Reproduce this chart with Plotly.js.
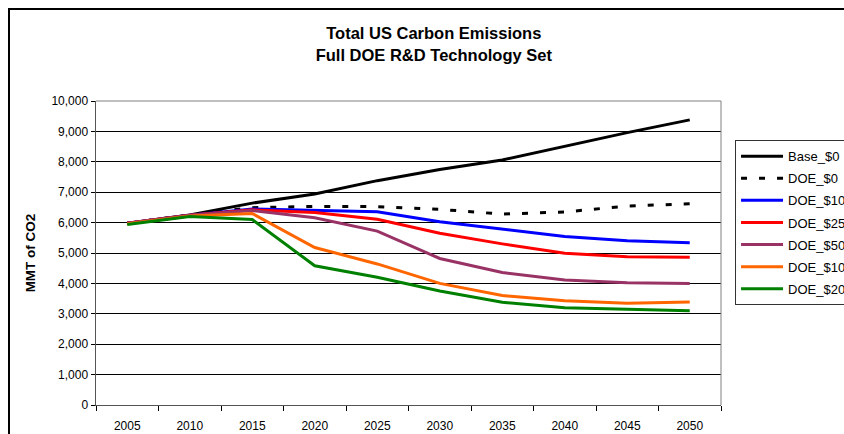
<!DOCTYPE html>
<html>
<head>
<meta charset="utf-8">
<script src="https://cdn.plot.ly/plotly-3.0.1.min.js"></script>
<style>html,body{margin:0;padding:0;background:#fff;overflow:hidden}#chart{width:844px;height:434px}</style>
</head>
<body>
<div id="chart"></div>
<script>
const years = ["2005","2010","2015","2020","2025","2030","2035","2040","2045","2050"];
const base_0   = [5980, 6250, 6640, 6940, 7380, 7750, 8060, 8520, 8960, 9380];
const doe_0    = [5980, 6250, 6490, 6535, 6525, 6435, 6280, 6350, 6545, 6620];
const doe_10   = [5980, 6240, 6450, 6415, 6360, 6030, 5780, 5540, 5405, 5340];
const doe_25   = [5980, 6240, 6420, 6330, 6110, 5650, 5300, 4990, 4880, 4860];
const doe_50   = [5980, 6240, 6400, 6160, 5720, 4820, 4360, 4110, 4020, 4000];
const doe_100  = [5960, 6220, 6300, 5180, 4640, 4000, 3600, 3430, 3345, 3390];
const doe_200  = [5940, 6200, 6100, 4580, 4200, 3750, 3380, 3200, 3150, 3100];
const seriesNames = ["Base_$0","DOE_$0","DOE_$100","DOE_$250","DOE_$500","DOE_$1000","DOE_$2000"];
const seriesData = [base_0, doe_0, doe_10, doe_25, doe_50, doe_100, doe_200];
const colors = ["#000000","#000000","#0000FF","#FF0000","#993366","#FF6600","#008000"];
const dashes = ["solid","6px,12px","solid","solid","solid","solid","solid"];

const traces = seriesNames.map((n,i)=>({
  x: years, y: seriesData[i], name: n, type: 'scatter', mode: 'lines',
  line: {color: colors[i], width: 3, dash: dashes[i]},
  legendgroup: 'g'+i
}));

const layout = {
  width: 844, height: 434,
  margin: {l: 96, r: 123, t: 101, b: 29},
  paper_bgcolor: '#fff', plot_bgcolor: '#fff',
  font: {family: 'Liberation Sans, Arial, sans-serif', color: '#000', size: 12},
  title: {text: '<b>Total US Carbon Emissions<br>Full DOE R&D Technology Set</b>',
          font: {size: 16.5, color: '#000'}, x: 0.514, xanchor: 'center', y: 0.91, yanchor: 'top'},
  xaxis: {type: 'category', range: [-0.5, 9.5], showgrid: false,
          ticks: 'outside', tickson: 'boundaries', ticklen: 5, tickcolor: '#000',
          showline: true, linecolor: '#555', linewidth: 1, mirror: false,
          tickfont: {size: 12}, ticklabelstandoff: 10, fixedrange: true},
  yaxis: {range: [0, 10000], dtick: 1000, tickformat: ',d',
          showgrid: true, gridcolor: '#000', gridwidth: 1,
          ticks: 'outside', ticklen: 4, tickcolor: '#000',
          showline: true, linecolor: '#555', linewidth: 1.5, zeroline: false,
          title: {text: '<b>MMT of CO2</b>', font: {size: 13.5}, standoff: 12},
          tickfont: {size: 12}},
  showlegend: true,
  legend: {xref: 'container', yref: 'container', x: 0.8709, xanchor: 'left', y: 0.677, yanchor: 'top',
           bordercolor: '#333', borderwidth: 1, bgcolor: '#fff', itemwidth: 42,
           font: {size: 13}, tracegroupgap: 2.2, traceorder: 'grouped'},
  shapes: [
    {type: 'line', xref: 'paper', yref: 'paper', x0: 1, x1: 1, y0: 0, y1: 1,
     line: {color: '#808080', width: 1}},
    {type: 'line', xref: 'paper', yref: 'paper', x0: 0, x1: 1, y0: 1, y1: 1,
     line: {color: '#808080', width: 1}},
    {type: 'rect', xref: 'paper', yref: 'paper', x0: -0.1392, x1: 2, y0: -1, y1: 1.3026,
     line: {color: '#000', width: 2}, layer: 'below'}
  ]
};
Plotly.newPlot('chart', traces, layout, {displayModeBar: false, staticPlot: true});
</script>
</body>
</html>
